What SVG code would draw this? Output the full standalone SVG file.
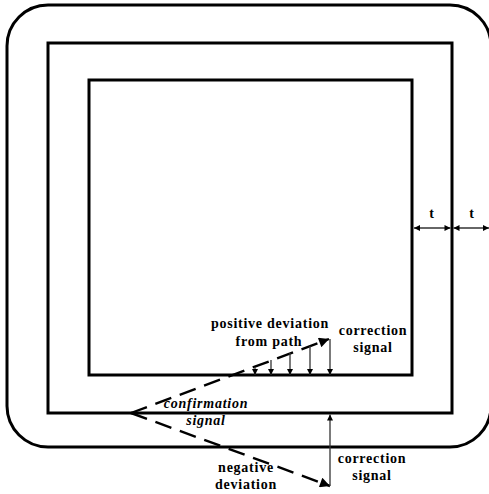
<svg xmlns="http://www.w3.org/2000/svg" width="489" height="494" viewBox="0 0 489 494">
<style>
.frame{fill:none;stroke:#000;stroke-width:3}
.thin{fill:none;stroke:#333;stroke-width:1.3}
.dash{fill:none;stroke:#000;stroke-width:2.4;stroke-dasharray:17 9}
.lbl{font-family:"Liberation Serif","Times New Roman",serif;font-weight:bold;font-size:14px;letter-spacing:0.75px;text-anchor:middle;fill:#000}
.it{font-style:italic}
</style>
<defs>
<marker id="ah" viewBox="0 0 10 10" refX="10" refY="5" markerWidth="7" markerHeight="6" markerUnits="userSpaceOnUse" orient="auto-start-reverse">
<path d="M0,0 L10,5 L0,10 z" fill="#000"/>
</marker>
<marker id="big" viewBox="0 0 10 10" refX="10" refY="5" markerWidth="14" markerHeight="10" markerUnits="userSpaceOnUse" orient="auto">
<path d="M0,0 L10,5 L0,10 z" fill="#000"/>
</marker>
</defs>
<g id="outer-boundary"><rect class="frame" x="7" y="5" width="484" height="442" rx="41" ry="41"/></g>
<g id="middle-rect"><rect class="frame" x="48" y="43" width="404" height="370"/></g>
<g id="inner-rect"><rect class="frame" x="89" y="80" width="323" height="295"/></g>
<g id="connectors">
<line class="thin" x1="414" y1="228" x2="450.5" y2="228" marker-start="url(#ah)" marker-end="url(#ah)"/>
<line class="thin" x1="453.5" y1="228" x2="489" y2="228" marker-start="url(#ah)" marker-end="url(#ah)"/>
<line class="dash" x1="131" y1="413" x2="329" y2="339" marker-end="url(#big)"/>
<line class="dash" x1="131" y1="413" x2="330" y2="486" marker-end="url(#big)"/>
<line class="thin" x1="255" y1="367" x2="255" y2="375" marker-end="url(#ah)"/>
<line class="thin" x1="271" y1="360" x2="271" y2="375" marker-end="url(#ah)"/>
<line class="thin" x1="290" y1="353" x2="290" y2="375" marker-end="url(#ah)"/>
<line class="thin" x1="310" y1="346" x2="310" y2="375" marker-end="url(#ah)"/>
<line class="thin" x1="330" y1="339" x2="330" y2="375" marker-end="url(#ah)"/>
<line class="thin" x1="330" y1="486" x2="330" y2="414.5" marker-end="url(#ah)"/>
</g>
<g id="labels">
<text class="lbl" x="432" y="218">t</text>
<text class="lbl" x="472" y="218">t</text>
<text class="lbl" x="270" y="328">positive deviation</text>
<text class="lbl" x="269" y="346">from path</text>
<text class="lbl" x="373" y="335">correction</text>
<text class="lbl" x="373" y="352">signal</text>
<text class="lbl it" x="206" y="408">confirmation</text>
<text class="lbl it" x="206" y="425">signal</text>
<text class="lbl" x="246" y="472">negative</text>
<text class="lbl" x="246" y="489">deviation</text>
<text class="lbl" x="372" y="463">correction</text>
<text class="lbl" x="372" y="480">signal</text>
</g>
</svg>
